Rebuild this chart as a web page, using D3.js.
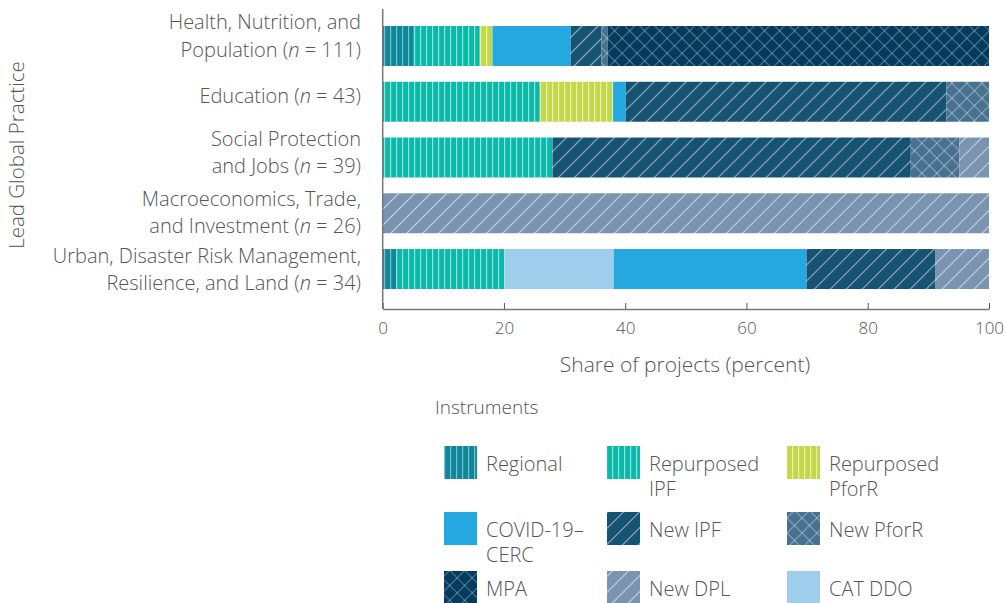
<!DOCTYPE html>
<html>
<head>
<meta charset="utf-8">
<script src="https://cdn.jsdelivr.net/npm/d3@7"></script>
<style>
  body { margin: 0; background: #fff; }
  svg text { font-family: "Open Sans", "Lato", sans-serif; font-weight: 300; fill: #555; }
</style>
</head>
<body>
<div id="chart"></div>
<script>

// categories, top to bottom
var categories = ["Health", "Education", "Social", "Macro", "Urban"];
var catLines = [
    ["Health, Nutrition, and", "Population (", "111)"],
    [null, "Education (", "43)"],
    ["Social Protection", "and Jobs (", "39)"],
    ["Macroeconomics, Trade,", "and Investment (", "26)"],
    ["Urban, Disaster Risk Management,", "Resilience, and Land (", "34)"]
];

// share of projects (percent), one value per category
var regional   = [5.0, 0, 0, 0, 2.2];
var repIPF     = [11.0, 25.9, 28.0, 0, 17.9];
var repPforR   = [2.1, 12.1, 0, 0, 0];
var catDDO     = [0, 0, 0, 0, 18.0];
var covid      = [12.9, 2.1, 0, 0, 31.8];
var newIPF     = [5.1, 52.9, 59.1, 0, 21.2];
var newPforR   = [1.0, 7.0, 8.0, 0, 0];
var mpa        = [62.9, 0, 0, 0, 0];
var newDPL     = [0, 0, 4.9, 100, 8.9];

var xTicks = [0, 20, 40, 60, 80, 100];

// stacking order in bars
var stackKeys = ["Regional", "Repurposed IPF", "Repurposed PforR", "CAT DDO", "COVID-19–CERC", "New IPF", "New PforR", "MPA", "New DPL"];
var seriesVals = [regional, repIPF, repPforR, catDDO, covid, newIPF, newPforR, mpa, newDPL];

// legend order (3 columns)
var legendKeys = ["Regional", "Repurposed IPF", "Repurposed PforR", "COVID-19–CERC", "New IPF", "New PforR", "MPA", "New DPL", "CAT DDO"];
var legendLines = {
    "Regional": ["Regional"],
    "Repurposed IPF": ["Repurposed", "IPF"],
    "Repurposed PforR": ["Repurposed", "PforR"],
    "COVID-19–CERC": ["COVID-19–", "CERC"],
    "New IPF": ["New IPF"],
    "New PforR": ["New PforR"],
    "MPA": ["MPA"],
    "New DPL": ["New DPL"],
    "CAT DDO": ["CAT DDO"]
};

var fills = {
    "Regional":         {base: "#0f879a", kind: "vert",  line: "rgba(255,255,255,0.45)"},
    "Repurposed IPF":   {base: "#0bb9a8", kind: "vert",  line: "rgba(255,255,255,0.55)"},
    "Repurposed PforR": {base: "#c2d74a", kind: "vert",  line: "rgba(255,255,255,0.6)"},
    "COVID-19–CERC":    {base: "#25a8e0", kind: "solid"},
    "New IPF":          {base: "#165373", kind: "diag",  line: "rgba(255,255,255,0.55)"},
    "New PforR":        {base: "#477190", kind: "cross", line: "rgba(255,255,255,0.35)"},
    "MPA":              {base: "#033a5d", kind: "cross", line: "rgba(255,255,255,0.3)"},
    "New DPL":          {base: "#7993b0", kind: "diag",  line: "rgba(255,255,255,0.6)"},
    "CAT DDO":          {base: "#9fcdec", kind: "solid"}
};

// mean baseline of each label block relative to the bar centre (layout only)
var labelMid = [-3, 1, 2, 6, 7.5];
var lineGap = 27.5;

var table = categories.map(function (c, i) {
    var row = {cat: c};
    stackKeys.forEach(function (k, j) { row[k] = seriesVals[j][i]; });
    return row;
});

var width = 1005, height = 603;
var svg = d3.select("#chart").append("svg")
    .attr("width", width)
    .attr("height", height);

// patterns
var defs = svg.append("defs");
stackKeys.forEach(function (k, i) {
    var f = fills[k];
    if (f.kind === "solid") { f.url = f.base; return; }
    var id = "pat" + i;
    var p = defs.append("pattern").attr("id", id).attr("patternUnits", "userSpaceOnUse");
    if (f.kind === "vert") {
        p.attr("width", 6).attr("height", 10);
        p.append("rect").attr("width", 6).attr("height", 10).attr("fill", f.base);
        p.append("rect").attr("x", 0).attr("width", 1.2).attr("height", 10).attr("fill", f.line);
    } else if (f.kind === "diag") {
        p.attr("width", 11.3).attr("height", 10).attr("patternTransform", "rotate(45)");
        p.append("rect").attr("width", 11.3).attr("height", 10).attr("fill", f.base);
        p.append("rect").attr("x", 0).attr("width", 1.1).attr("height", 10).attr("fill", f.line);
    } else {
        p.attr("width", 10.6).attr("height", 10.6).attr("patternTransform", "rotate(45)");
        p.append("rect").attr("width", 10.6).attr("height", 10.6).attr("fill", f.base);
        p.append("rect").attr("width", 1.1).attr("height", 10.6).attr("fill", f.line);
        p.append("rect").attr("width", 10.6).attr("height", 1.1).attr("fill", f.line);
    }
    f.url = "url(#" + id + ")";
});

var x = d3.scaleLinear().domain([0, 100]).range([382.7, 989]);
var y = d3.scaleBand().domain(categories).range([26, 289]).paddingInner(0.283).paddingOuter(0);

var stacked = d3.stack().keys(stackKeys)(table);

svg.append("g").selectAll("g")
    .data(stacked)
    .join("g")
    .attr("fill", function (d) { return fills[d.key].url; })
    .selectAll("rect")
    .data(function (d) { return d; })
    .join("rect")
    .attr("x", function (d) { return x(d[0]); })
    .attr("width", function (d) { return x(d[1]) - x(d[0]); })
    .attr("y", function (d) { return y(d.data.cat); })
    .attr("height", y.bandwidth());

// axes
var axisY = 309;
var xAxis = svg.append("g")
    .attr("transform", "translate(0," + axisY + ")")
    .call(d3.axisBottom(x).tickValues(xTicks).tickSize(-6).tickPadding(13).tickSizeOuter(0));
xAxis.select(".domain").attr("stroke", "#777").attr("stroke-width", 1.5);
xAxis.selectAll(".tick line").attr("stroke", "#555");
xAxis.selectAll(".tick text").attr("font-size", 17).style("fill", "#555")
    .style("font-family", "'Open Sans', sans-serif").style("font-weight", 300);

svg.append("line")
    .attr("x1", x(0)).attr("x2", x(0))
    .attr("y1", 9).attr("y2", axisY)
    .attr("stroke", "#777").attr("stroke-width", 1.5);

svg.append("text")
    .attr("x", 685).attr("y", 372)
    .attr("text-anchor", "middle")
    .attr("font-size", 21)
    .text("Share of projects (percent)");

svg.append("text")
    .attr("transform", "translate(24,155) rotate(-90)")
    .attr("text-anchor", "middle")
    .attr("font-size", 20.5)
    .text("Lead Global Practice");

// category labels
categories.forEach(function (c, i) {
    var cy = y(c) + y.bandwidth() / 2 + labelMid[i];
    var lines = catLines[i];
    var lab = svg.append("g").attr("text-anchor", "end").attr("font-size", 20);
    var secondY = cy;
    if (lines[0]) {
        lab.append("text").attr("x", 361).attr("y", cy - lineGap / 2).text(lines[0]);
        secondY = cy + lineGap / 2;
    }
    var t = lab.append("text").attr("x", 361).attr("y", secondY);
    t.append("tspan").text(lines[1]);
    t.append("tspan").style("font-style", "italic").text("n");
    t.append("tspan").text(" = " + lines[2]);
});

// legend
svg.append("text").attr("x", 435).attr("y", 414).attr("font-size", 19).text("Instruments");

var colX = [444, 607, 787];
var rowY = [446, 512, 571];
legendKeys.forEach(function (k, i) {
    var lx = colX[i % 3], ly = rowY[Math.floor(i / 3)];
    var g = svg.append("g");
    g.append("rect")
        .attr("x", lx).attr("y", ly)
        .attr("width", 33).attr("height", 33)
        .attr("fill", fills[k].url);
    legendLines[k].forEach(function (s, j) {
        g.append("text")
            .attr("x", lx + 42).attr("y", ly + 25 + j * 25)
            .attr("font-size", 20)
            .text(s);
    });
});

</script>
</body>
</html>
